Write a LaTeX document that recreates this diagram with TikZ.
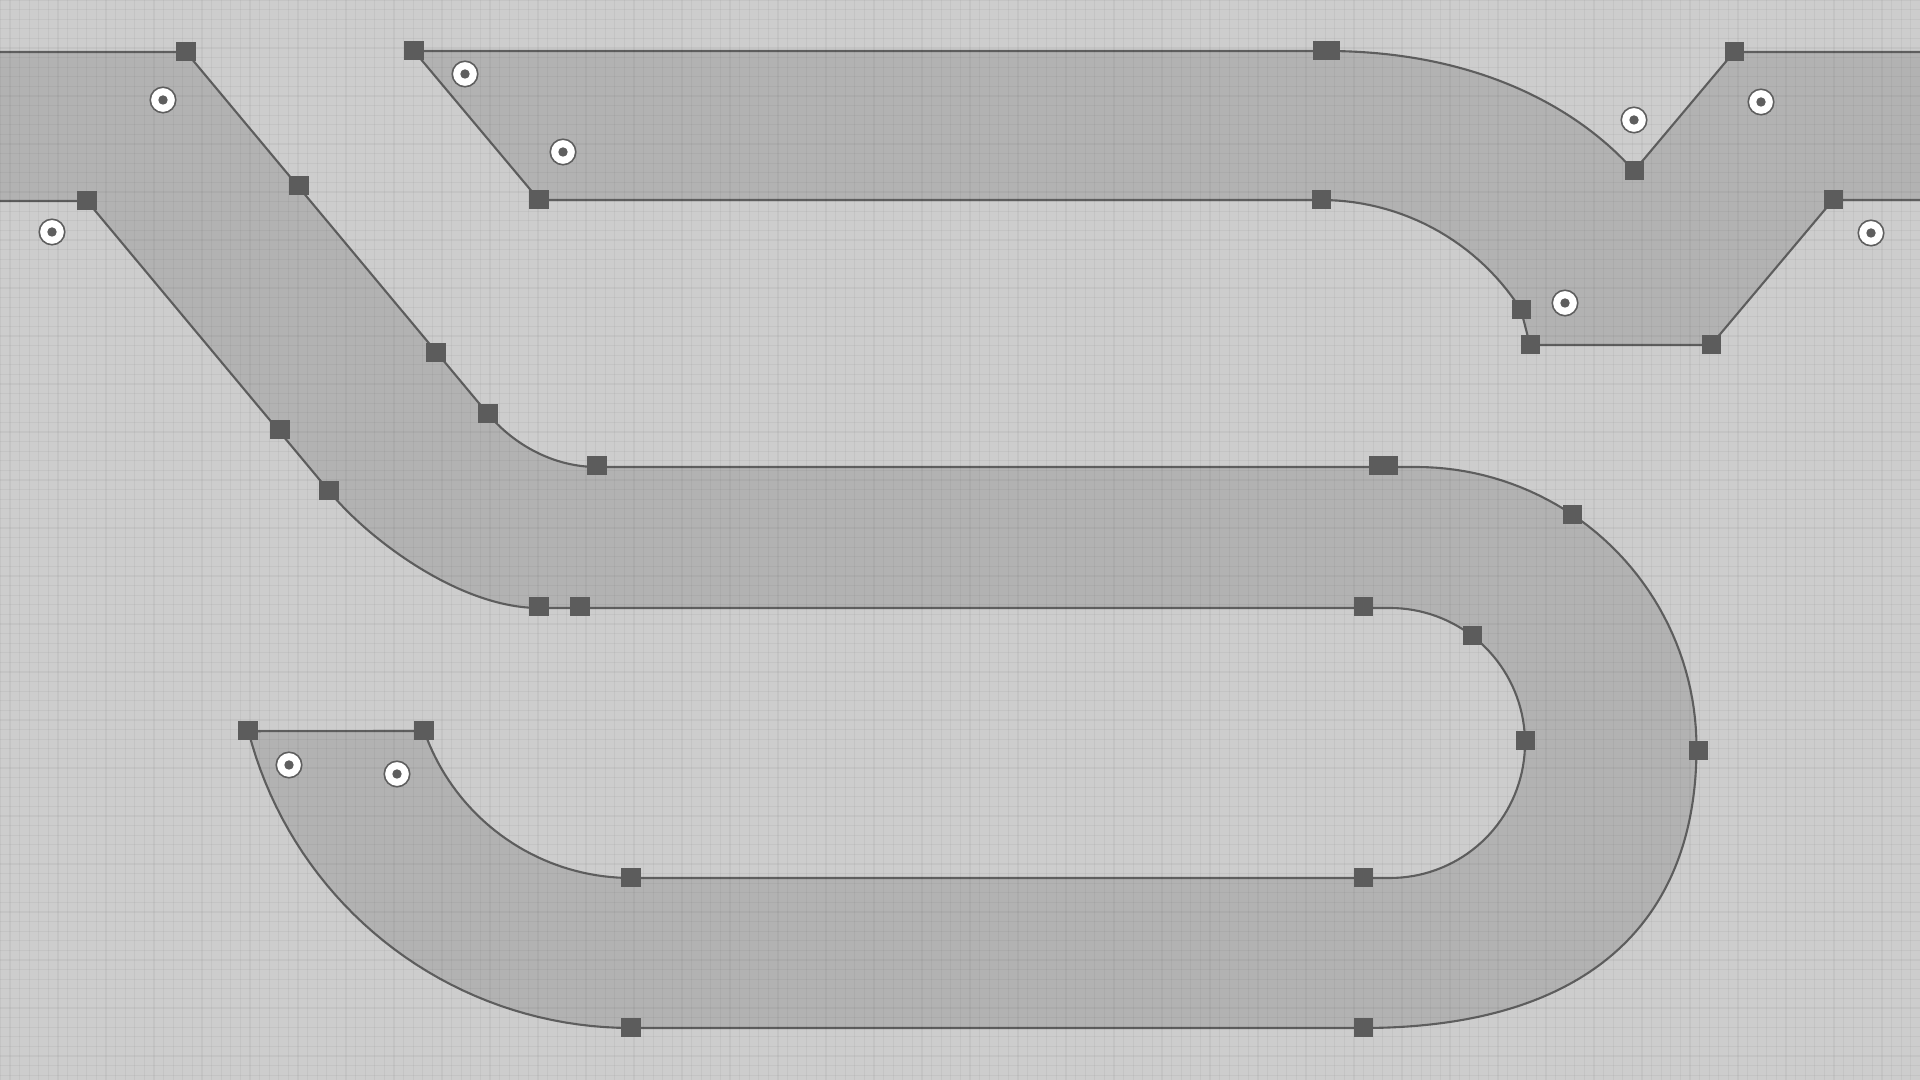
\documentclass[tikz,border=0pt]{standalone}
\definecolor{bgc}{HTML}{CDCDCD}
\definecolor{trackc}{HTML}{B2B2B2}
\definecolor{edgec}{HTML}{5E5E5E}
\definecolor{handlec}{HTML}{5C5C5C}
\tikzset{
  trackshape/.style={fill=trackc, draw=edgec, line width=0.6pt, line join=round},
  gridl/.style={draw=black, opacity=0.04, line width=0.3pt},
  handlebox/.style={rectangle, fill=handlec, draw=none,
    minimum size=0.19cm, inner sep=0pt, outer sep=0pt},
  sensor/.style={circle, fill=white, draw=edgec, line width=0.45pt,
    minimum size=0.255cm, inner sep=0pt,
    path picture={\fill[edgec] (path picture bounding box.center) circle (0.047cm);}}
}
\begin{document}
\begin{tikzpicture}[x=0.01cm,y=-0.01cm]
\useasboundingbox (0,0) rectangle (1920,1080);
\clip (0,0) rectangle (1920,1080);
\fill[bgc] (0,0) rectangle (1920,1080);

% continuous track (top-left diagonal, middle straight, U-turn, bottom)
\filldraw[trackshape] (-30,52) -- (186,52) -- (488,414)
  .. controls (515,446) and (555,467) .. (597,467) -- (1416,467)
  -- plot[domain=-90:0,samples=46] ({1416+280.5*cos(\x)},{747.5+280.5*sin(\x)})
  .. controls (1696.5,928) and (1581,1028) .. (1363,1028)
  -- (631,1028)
  -- plot[domain=90:165.6,samples=40] ({631+395*cos(\x)},{633+395*sin(\x)})
  -- (424,731)
  -- plot[domain=160.8:90,samples=40] ({631+219*cos(\x)},{659+219*sin(\x)})
  -- (1390,878)
  -- plot[domain=90:-90,samples=73] ({1390+135*cos(\x)},{743+135*sin(\x)})
  -- (539,608) .. controls (459,608) and (367,538) .. (329,491)
  -- (87,201) -- (-30,201) -- cycle;

% top track with Y junction
\filldraw[trackshape] (414,51) -- (1326,51)
  .. controls (1480,51) and (1580,110) .. (1634,171)
  -- (1734,52) -- (1950,52) -- (1950,200) -- (1833,200) -- (1711,345)
  -- (1530,345) -- (1521,310)
  -- plot[domain=-32.4:-90,samples=30] ({1321+237*cos(\x)},{437+237*sin(\x)})
  -- (539,200) -- cycle;

% grid
\foreach \i in {0,...,200} {\draw[gridl] ({0.4+9.6*\i},0) -- ({0.4+9.6*\i},1080);}
\foreach \j in {0,...,113} {\draw[gridl] (0,{9.6*\j}) -- (1920,{9.6*\j});}

% handles
\foreach \px/\py [count=\k] in {186/52, 87/201, 299/186, 436/353, 280/430, 488/414,
  329/491, 597/466, 539/607, 580/607, 1378/466, 1388/466, 1572/515, 1698/751,
  1363/607, 1472/636, 1525/741, 1363/878, 1363/1028, 631/878, 631/1028,
  248/731, 424/731, 414/51, 539/200, 1322/51, 1330/51, 1634/171, 1734/52,
  1833/200, 1711/345, 1530/345, 1521/310, 1321/200}
  {\node[handlebox] (h\k) at (\px,\py) {};}

% sensors
\foreach \px/\py [count=\k] in {163/100, 52/232, 465/74, 563/152, 1634/120,
  1761/102, 1871/233, 1565/303, 289/765, 397/774}
  {\node[sensor] (c\k) at (\px,\py) {};}
\end{tikzpicture}
\end{document}
